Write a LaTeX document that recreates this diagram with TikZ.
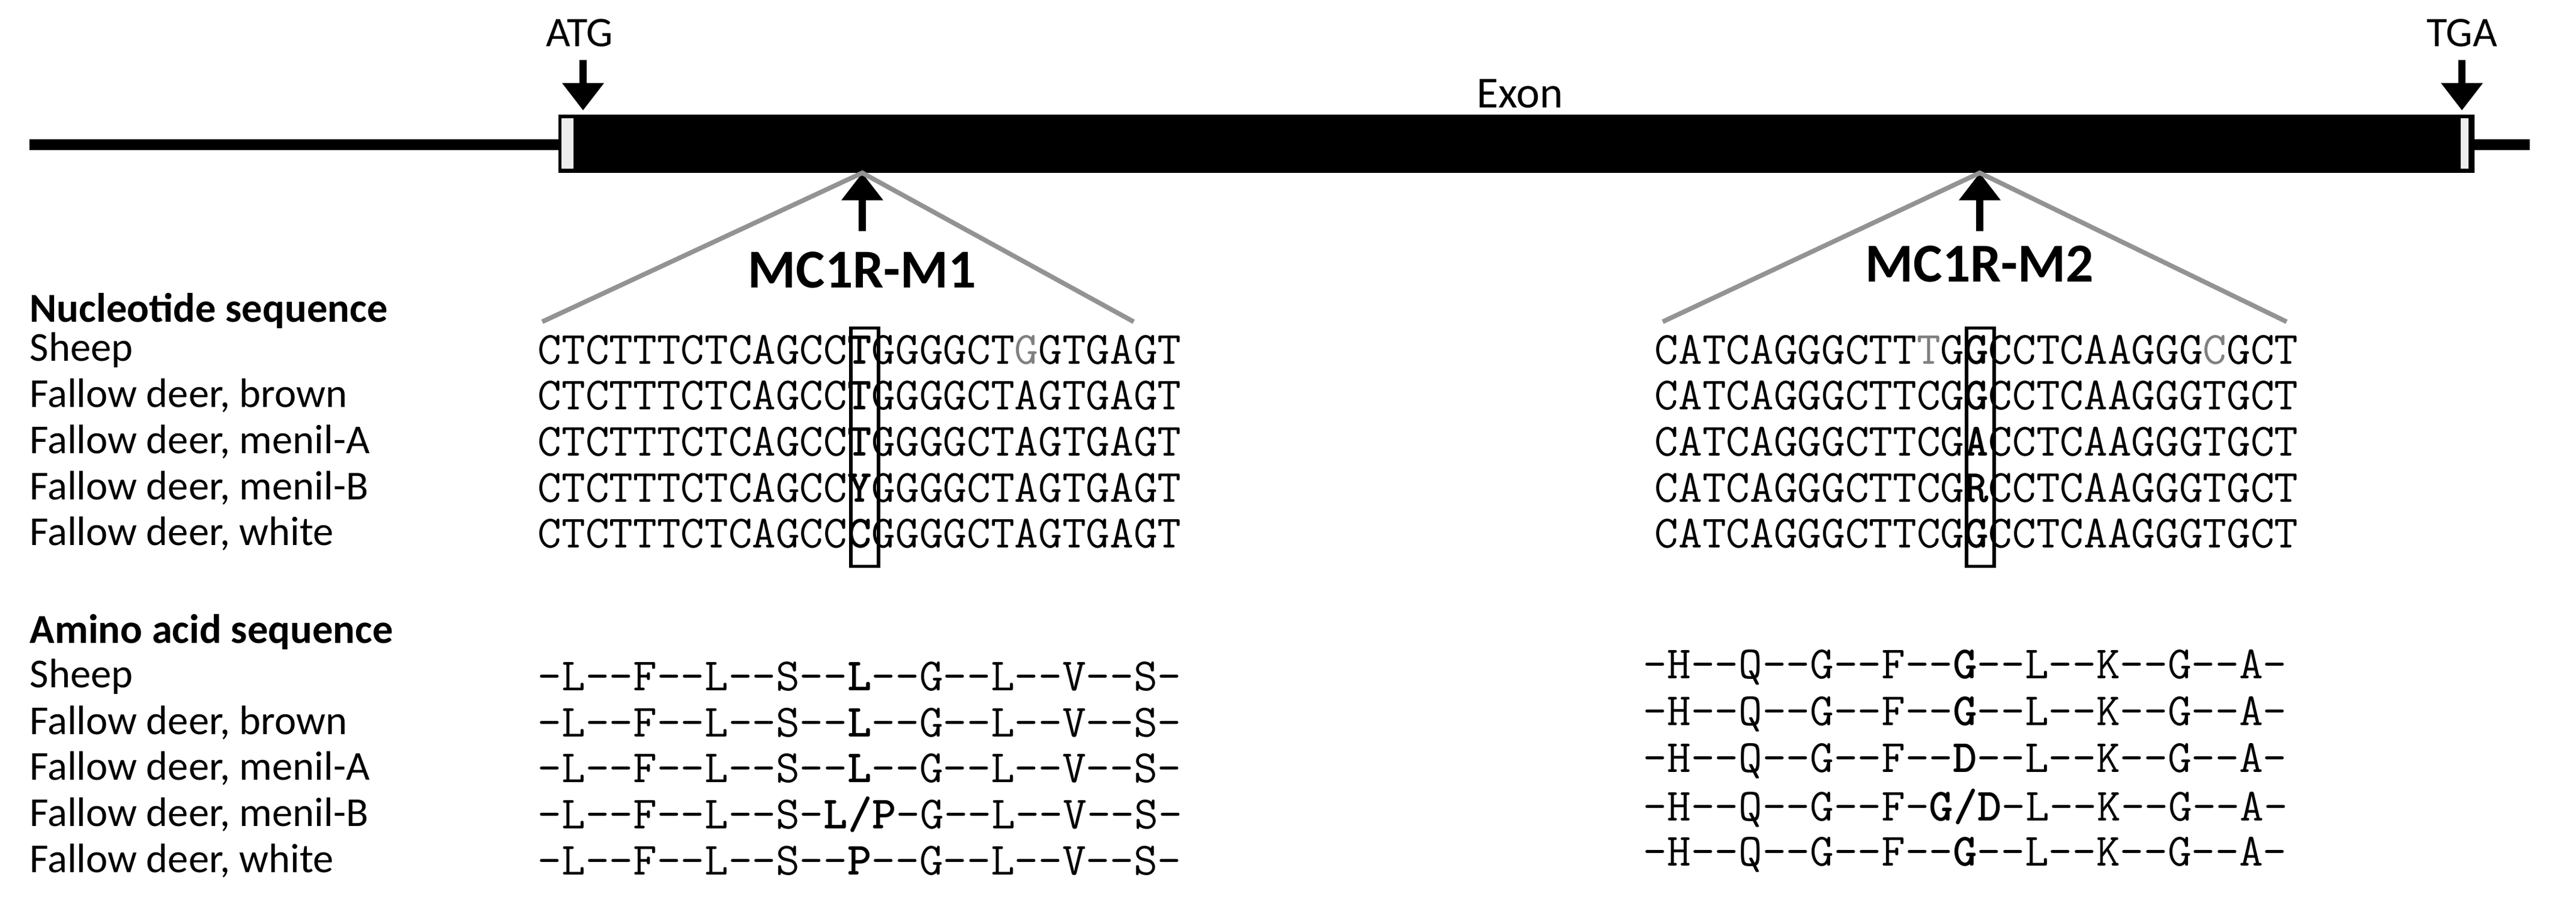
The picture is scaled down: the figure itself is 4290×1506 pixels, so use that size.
\documentclass[tikz,border=0pt]{standalone}
\usepackage{fontspec}
\setmainfont{Carlito}
\usetikzlibrary{arrows.meta}
\begin{document}
\begin{tikzpicture}[x=0.01cm,y=-0.01cm,
  lab/.style={anchor=west,inner sep=0,font=\fontsize{19.5}{19.5}\selectfont},
  head/.style={lab,font=\fontsize{19.5}{19.5}\selectfont\bfseries},
  sq/.style={anchor=west,inner sep=0,font=\ttfamily\fontsize{21.9}{21.9}\selectfont},
  bigarrow/.style={line width=3.6pt,-{Triangle[width=19pt,length=13pt]}},
  zoomline/.style={draw=gray!85,line width=2.2pt},
  mk/.style={draw=black,line width=1.6pt}]
\useasboundingbox (0,0) rectangle (4290,1506);
% gene
\coordinate (L0) at (49,241);
\coordinate (L1) at (4213,241);
\draw[line width=5pt] (L0) -- (L1);
\node[fill=black,draw=black,inner sep=0,anchor=north west,
      minimum width=31.88cm,minimum height=0.96cm] (exon) at (930,191) {};
\node[fill=gray!15,inner sep=0,minimum width=0.2cm,minimum height=0.84cm] (w1) at (945,239) {};
\node[fill=gray!15,inner sep=0,minimum width=0.13cm,minimum height=0.84cm] (w2) at (4104,239) {};
\node[inner sep=0,font=\fontsize{20}{20}\selectfont] (atg) at (965,55) {ATG};
\node[inner sep=0,font=\fontsize{20}{20}\selectfont] (tga) at (4100,55) {TGA};
\node[inner sep=0,font=\fontsize{21}{21}\selectfont] (ex) at (2531,156) {Exon};
\coordinate (a1) at (971,100); \coordinate (a1t) at (971,184);
\coordinate (a2) at (4100,100); \coordinate (a2t) at (4100,184);
\draw[bigarrow] (a1) -- (a1t);
\draw[bigarrow] (a2) -- (a2t);
% M1 / M2 arrows
\coordinate (m1b) at (1436,385); \coordinate (m1t) at (1436,288);
\coordinate (m2b) at (3297,385); \coordinate (m2t) at (3297,288);
\draw[bigarrow] (m1b) -- (m1t);
\draw[bigarrow] (m2b) -- (m2t);
\node[inner sep=0,font=\fontsize{26}{26}\selectfont\bfseries] (M1) at (1436,450) {MC1R-M1};
\node[inner sep=0,font=\fontsize{26}{26}\selectfont\bfseries] (M2) at (3297,440) {MC1R-M2};
\coordinate (z1a) at (903,536); \coordinate (z1b) at (1888,536);
\coordinate (z2a) at (2769,536); \coordinate (z2b) at (3808,536);
\draw[zoomline] (z1a) -- (m1t) -- (z1b);
\draw[zoomline] (z2a) -- (m2t) -- (z2b);
% labels
\node[head] (hn) at (49,518) {Nucleotide sequence};
\foreach \y/\t [count=\i] in {583/Sheep,659/{Fallow deer, brown},736/{Fallow deer, menil-A},813/{Fallow deer, menil-B},889/{Fallow deer, white}}
  \node[lab] (nl\i) at (49,\y) {\t};
\node[head] (ha) at (49,1053) {Amino acid sequence};
\foreach \y/\t [count=\i] in {1127/Sheep,1204/{Fallow deer, brown},1280/{Fallow deer, menil-A},1357/{Fallow deer, menil-B},1434/{Fallow deer, white}}
  \node[lab] (al\i) at (49,\y) {\t};
% nucleotide M1
\node[sq] (s11) at (895,583) {CTCTTTCTCAGCC\textbf{T}GGGGCT\textcolor{gray}{G}GTGAGT};
\node[sq] (s12) at (895,659) {CTCTTTCTCAGCC\textbf{T}GGGGCTAGTGAGT};
\node[sq] (s13) at (895,736) {CTCTTTCTCAGCC\textbf{T}GGGGCTAGTGAGT};
\node[sq] (s14) at (895,813) {CTCTTTCTCAGCC\textbf{Y}GGGGCTAGTGAGT};
\node[sq] (s15) at (895,889) {CTCTTTCTCAGCC\textbf{C}GGGGCTAGTGAGT};
% nucleotide M2
\node[sq] (s21) at (2755,583) {CATCAGGGCTT\textcolor{gray}{T}G\textbf{G}CCTCAAGGG\textcolor{gray}{C}GCT};
\node[sq] (s22) at (2755,659) {CATCAGGGCTTCG\textbf{G}CCTCAAGGGTGCT};
\node[sq] (s23) at (2755,736) {CATCAGGGCTTCG\textbf{A}CCTCAAGGGTGCT};
\node[sq] (s24) at (2755,813) {CATCAGGGCTTCG\textbf{R}CCTCAAGGGTGCT};
\node[sq] (s25) at (2755,889) {CATCAGGGCTTCG\textbf{G}CCTCAAGGGTGCT};
% boxes
\node[mk,inner sep=0,minimum width=0.46cm,minimum height=3.97cm] (b1) at (1440,745) {};
\node[mk,inner sep=0,minimum width=0.46cm,minimum height=3.97cm] (b2) at (3298,745) {};
% amino M1
\node[sq] (p11) at (895,1127) {-L--F--L--S--\textbf{L}--G--L--V--S-};
\node[sq] (p12) at (895,1204) {-L--F--L--S--\textbf{L}--G--L--V--S-};
\node[sq] (p13) at (895,1280) {-L--F--L--S--\textbf{L}--G--L--V--S-};
\node[sq] (p14) at (895,1357) {-L--F--L--S-\textbf{L/P}-G--L--V--S-};
\node[sq] (p15) at (895,1434) {-L--F--L--S--\textbf{P}--G--L--V--S-};
% amino M2
\node[sq] (p21) at (2736,1112) {-H--Q--G--F--\textbf{G}--L--K--G--A-};
\node[sq] (p22) at (2736,1190) {-H--Q--G--F--\textbf{G}--L--K--G--A-};
\node[sq] (p23) at (2736,1268) {-H--Q--G--F--\textbf{D}--L--K--G--A-};
\node[sq] (p24) at (2736,1346) {-H--Q--G--F-\textbf{G/D}-L--K--G--A-};
\node[sq] (p25) at (2736,1424) {-H--Q--G--F--\textbf{G}--L--K--G--A-};
\end{tikzpicture}
\end{document}
